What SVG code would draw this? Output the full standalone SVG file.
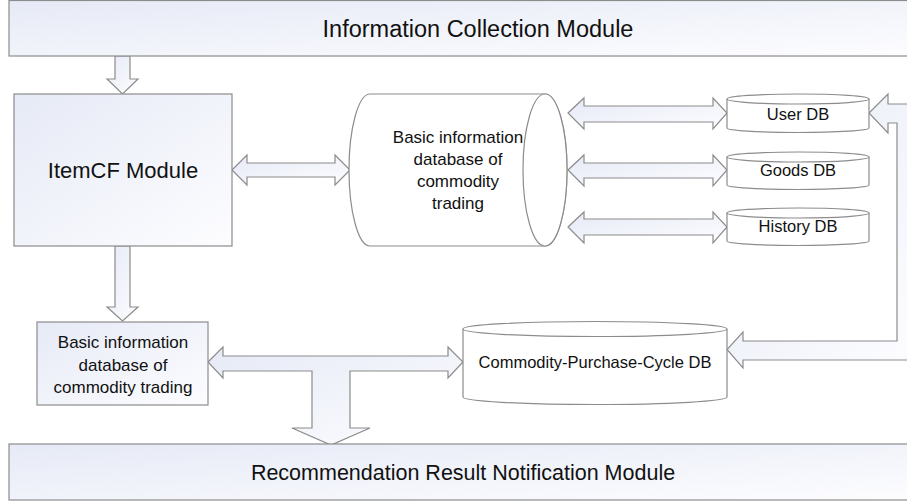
<svg xmlns="http://www.w3.org/2000/svg" width="907" height="501" viewBox="0 0 907 501">
<defs>
<linearGradient id="g" x1="0" y1="0" x2="1" y2="1">
<stop offset="0" stop-color="#e6eaf6"/>
<stop offset="1" stop-color="#fdfdff"/>
</linearGradient>
<style>
.box{fill:url(#g);stroke:#8c8c8c;stroke-width:1.2}
.cyl{fill:#ffffff;stroke:#8c8c8c;stroke-width:1.2}
.arr{fill:url(#g);stroke:#8c8c8c;stroke-width:1.2;stroke-linejoin:miter}
text{font-family:"Liberation Sans",Arial,sans-serif;fill:#111;text-anchor:middle}
.top{font-size:23.5px}
.big{font-size:21.5px}
.mid{font-size:22px}
.sm{font-size:17px}
.db{font-size:16.5px}
</style>
</defs>
<rect width="907" height="501" fill="#ffffff"/>

<g id="connectors">
<polygon class="arr" points="115,56 130,56 130,79 138,79 122.5,94 107,79 115,79"/>
<polygon class="arr" points="115,246 130,246 130,307 138,307 122.5,321 107,307 115,307"/>
<polygon class="arr" points="232,170 247,155 247,163 335,163 335,155 350,170 335,185 335,177 247,177 247,185"/>
<polygon class="arr" points="568,113 584,98 584,106 713,106 713,98 727,113 713,129 713,122 584,122 584,129"/>
<polygon class="arr" points="568,170 584,155 584,163 713,163 713,155 727,170 713,186 713,178 584,178 584,186"/>
<polygon class="arr" points="568,227 584,212 584,219 713,219 713,212 727,227 713,243 713,235 584,235 584,243"/>
<polygon class="arr" points="208,362 223,347 223,356 448,356 448,347 463,362 448,378 448,371 350,371 350,428 370,428 331,445 292,428 312,428 312,371 223,371 223,378"/>
<polygon class="arr" points="915,104 888,104 888,94 869,113 888,133 888,123 897,123 897,341 743,341 743,332 727,349.5 743,368 743,360 915,360"/>
</g>

<g id="info-collection">
<rect class="box" x="9" y="0.5" width="915" height="55.5"/>
<text class="top" x="478" y="37">Information Collection Module</text>
</g>

<g id="itemcf">
<rect class="box" x="14" y="94" width="218" height="152"/>
<text class="mid" x="123" y="178">ItemCF Module</text>
</g>

<g id="basic-db-cylinder">
<path class="cyl" d="M370,94 H545 A22,76 0 0 1 545,246 H370 A21,76 0 0 1 370,94 Z"/>
<ellipse class="cyl" cx="545" cy="170" rx="22" ry="76" fill="none"/>
<text class="sm" x="458" y="143">Basic information</text>
<text class="sm" x="458" y="165">database of</text>
<text class="sm" x="458" y="187">commodity</text>
<text class="sm" x="458" y="209">trading</text>
</g>

<g id="user-db">
<path class="cyl" d="M727,99 V128 A71,4.5 0 0 0 869,128 V99"/>
<ellipse class="cyl" cx="798" cy="99" rx="71" ry="5"/>
<text class="db" x="798" y="120">User DB</text>
</g>

<g id="goods-db">
<path class="cyl" d="M727,157 V185 A71,4.5 0 0 0 869,185 V157"/>
<ellipse class="cyl" cx="798" cy="157" rx="71" ry="5"/>
<text class="db" x="798" y="176">Goods DB</text>
</g>

<g id="history-db">
<path class="cyl" d="M727,213 V241 A71,4.5 0 0 0 869,241 V213"/>
<ellipse class="cyl" cx="798" cy="213" rx="71" ry="5"/>
<text class="db" x="798" y="232">History DB</text>
</g>

<g id="basic-db-box">
<rect class="box" x="37" y="322" width="171" height="83"/>
<text class="sm" x="123" y="348">Basic information</text>
<text class="sm" x="123" y="370.5">database of</text>
<text class="sm" x="123" y="393">commodity trading</text>
</g>

<g id="cpc-db">
<path class="cyl" d="M463,329 V397 A132,7.5 0 0 0 727,397 V329"/>
<ellipse class="cyl" cx="595" cy="329" rx="132" ry="7.5"/>
<text class="db" x="595" y="368">Commodity-Purchase-Cycle DB</text>
</g>

<g id="recommendation">
<rect class="box" x="9" y="444" width="915" height="56"/>
<text class="big" x="463" y="480">Recommendation Result Notification Module</text>
</g>
</svg>
